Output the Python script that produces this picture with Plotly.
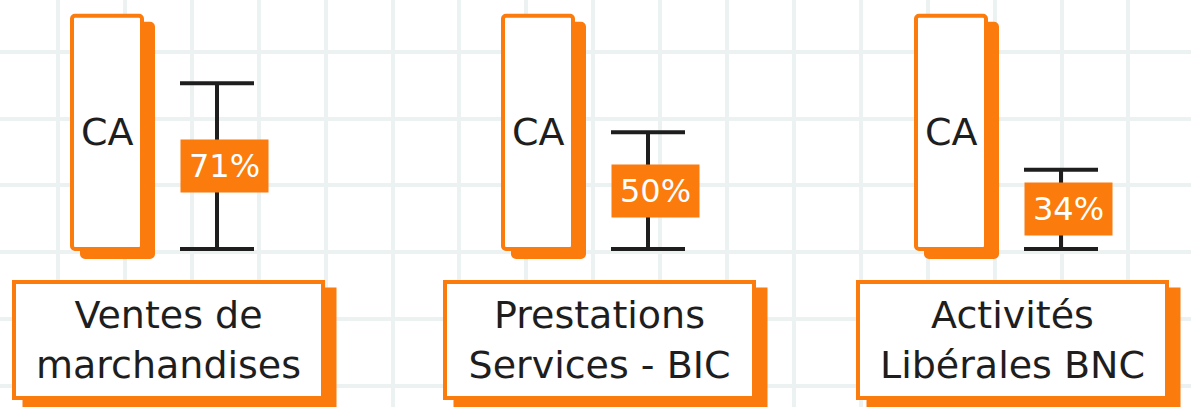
import plotly.graph_objects as go

# ---- data ----
categories = ["Ventes de<br>marchandises", "Prestations<br>Services - BIC", "Activités<br>Libérales BNC"]
ca_values = [100, 100, 100]
pct_values = [71, 50, 34]
bar_label = "CA"

# ---- style / layout constants ----
W, H = 1191, 407
ORANGE = "#fb7b0c"
INK = "#1e1e1e"
GRID = "#ecf2f2"
FONT = "DejaVu Sans"
panel_centers = [168, 599, 1012]   # px, layout of the three panels
HALF = 160                          # half width of each panel axis (px units)
PX_PER_UNIT = 2.333                 # vertical scale
BASE_PX = 249                       # baseline pixel
y_top = BASE_PX / PX_PER_UNIT
y_bot = -(H - BASE_PX) / PX_PER_UNIT

fig = go.Figure()

# background grid subplot
fig.add_trace(go.Scatter(x=[None], y=[None], xaxis="x", yaxis="y", showlegend=False, hoverinfo="skip"))

layout = dict(
    width=W, height=H,
    margin=dict(l=0, r=0, t=0, b=0),
    paper_bgcolor="white", plot_bgcolor="rgba(0,0,0,0)",
    barmode="overlay", showlegend=False,
    xaxis=dict(domain=[0, 1], range=[0, W], tickmode="linear", tick0=58, dtick=66.9, showgrid=True,
               gridcolor=GRID, gridwidth=4, zeroline=False, showticklabels=False,
               showline=False, ticks="", fixedrange=True),
    yaxis=dict(range=[y_bot, y_top], tickmode="linear", tick0=(BASE_PX - 52) / PX_PER_UNIT,
               dtick=66.7 / PX_PER_UNIT,
               showgrid=True, gridcolor=GRID, gridwidth=4, zeroline=False,
               showticklabels=False, showline=False, ticks="", fixedrange=True),
)

annotations = []
for i, (cat, ca, pct) in enumerate(zip(categories, ca_values, pct_values)):
    ax = f"x{i + 2}"
    c = panel_centers[i]
    layout[f"xaxis{i + 2}"] = dict(domain=[(c - HALF) / W, (c + HALF) / W], range=[-HALF, HALF],
                                   anchor="y", visible=False, showgrid=False, fixedrange=True)
    # shadow of the CA bar
    fig.add_trace(go.Bar(x=[0], y=[ca], base=-8 / PX_PER_UNIT, offset=-86, width=71,
                         marker=dict(color=ORANGE, line=dict(color=ORANGE, width=4), cornerradius=3),
                         xaxis=ax, yaxis="y", hoverinfo="skip"))
    # CA bar
    fig.add_trace(go.Bar(x=[0], y=[ca], base=0, offset=-96, width=70,
                         marker=dict(color="white", line=dict(color=ORANGE, width=4), cornerradius=3),
                         xaxis=ax, yaxis="y", hoverinfo="skip"))
    # share bracket
    fig.add_trace(go.Scatter(x=[49], y=[0], mode="markers",
                             marker=dict(size=1, color="rgba(0,0,0,0)"),
                             error_y=dict(type="data", symmetric=False, array=[pct], arrayminus=[0],
                                          width=37, thickness=4, color=INK),
                             xaxis=ax, yaxis="y", hoverinfo="skip"))
    # CA label
    annotations.append(dict(x=-61, y=ca / 2, xref=ax, yref="y", text=bar_label, showarrow=False,
                            font=dict(family=FONT, size=38, color=INK)))
    # percentage tag
    annotations.append(dict(x=56, y=pct / 2, xref=ax, yref="y", text=f"{pct}%", showarrow=False,
                            bgcolor=ORANGE, width=87, height=52, borderpad=0,
                            font=dict(family=FONT, size=32, color="white")))
    # category box shadow
    annotations.append(dict(x=0, y=-39.2, xref=ax, yref="y", text="", showarrow=False,
                            bgcolor=ORANGE, width=313, height=120, borderpad=0,
                            xshift=11, yshift=-8))
    # category box
    annotations.append(dict(x=0, y=-39.2, xref=ax, yref="y", text=cat, showarrow=False,
                            bgcolor="white", bordercolor=ORANGE, borderwidth=4, borderpad=0,
                            width=305, height=112,
                            font=dict(family=FONT, size=38, color=INK)))

layout["annotations"] = annotations
fig.update_layout(**layout)
fig.write_html("out.html", config={"displayModeBar": False},
               post_script="document.body.style.margin='0';document.body.style.overflow='hidden';")
